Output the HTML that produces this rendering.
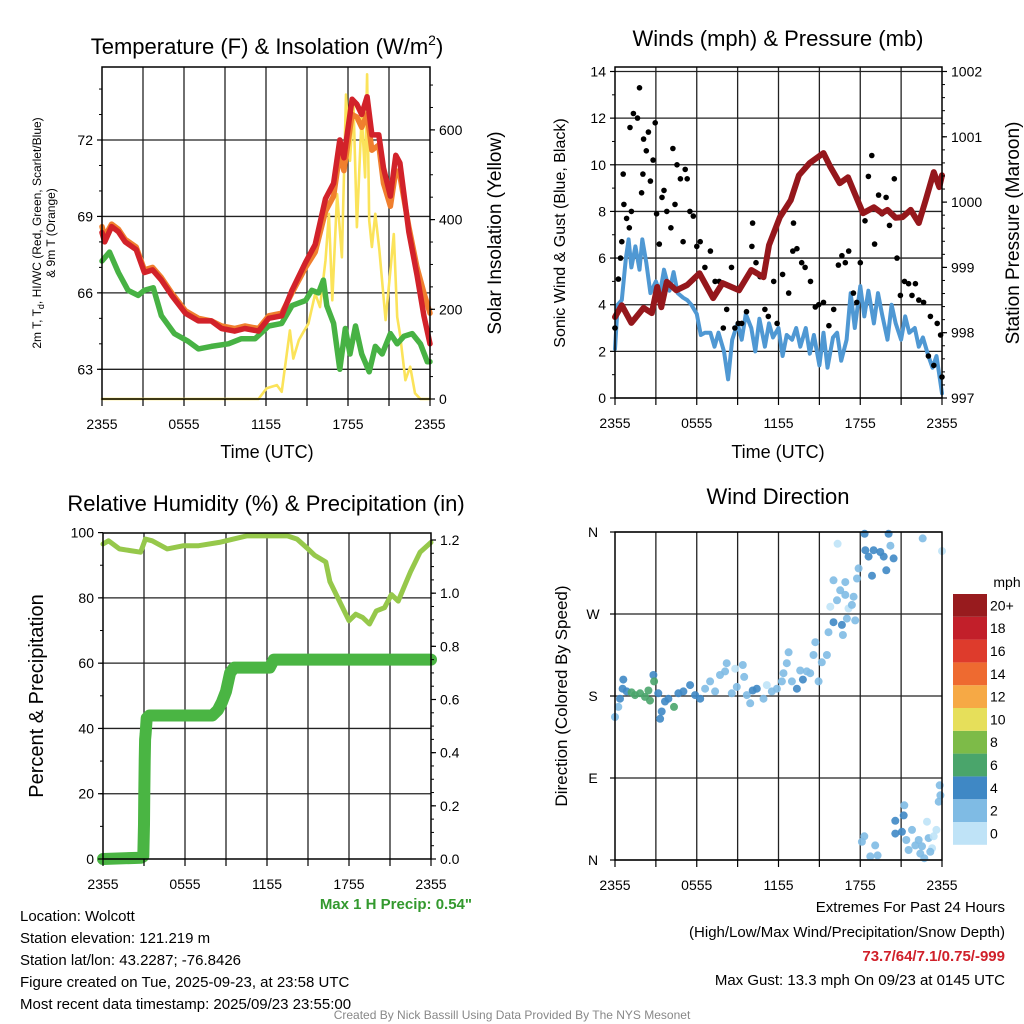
<!DOCTYPE html>
<html><head><meta charset="utf-8">
<style>
html,body{margin:0;padding:0;background:#fff;}
svg{display:block;font-family:"Liberation Sans",Arial,sans-serif;}
</style></head>
<body>
<svg id="fig" width="1024" height="1024" viewBox="0 0 1024 1024" xmlns="http://www.w3.org/2000/svg">
<g id="layer"></g>
</svg>
<script>
// ---------- Panel 1 data ----------
const tempHours = [0,0.2,0.7,1.2,1.7,2.5,3.1,3.7,4.35,5.1,6.1,7.05,8.0,8.75,9.7,10.45,11.45,12.2,13.15,13.9,14.9,15.6,16.35,16.95,17.4,17.7,18.3,18.65,19.0,19.4,19.75,20.25,20.6,21.1,21.5,21.8,22.45,23.05,23.55,24];
const tempRed = [68.37,68.0,68.6,68.4,68.0,67.7,66.8,66.9,66.5,65.9,65.2,64.9,64.9,64.6,64.5,64.6,64.5,65.0,65.1,66.1,67.2,67.9,69.7,70.3,72.0,71.3,73.6,73.4,73.0,73.7,72.2,72.2,70.9,69.8,71.4,71.1,68.4,66.7,65.1,64.0];
const tempOrange = [68.6,68.2,68.7,68.5,68.1,67.8,66.9,67.0,66.6,66.0,65.3,65.0,64.9,64.7,64.6,64.7,64.6,65.1,65.2,66.0,67.0,67.6,69.2,69.8,71.5,70.8,73.0,72.9,72.5,73.0,71.6,71.8,70.3,69.4,70.8,70.6,68.6,67.0,66.0,65.2];
const dewHours = [0,0.55,1.2,1.9,2.65,3.1,3.75,4.35,5.3,6.3,7.05,8.0,9.25,10.2,11.2,12.2,13.15,13.9,14.9,15.35,15.85,16.2,16.45,16.95,17.4,17.8,18.15,18.55,19.0,19.55,20.0,20.5,21.1,21.6,22.1,22.7,23.3,23.8,24];
const dewGreen = [67.25,67.6,66.8,66.1,65.9,66.1,66.2,65.1,64.4,64.1,63.8,63.9,64.0,64.2,64.2,64.7,64.8,65.5,65.7,66.1,66.0,66.5,65.5,64.8,63.0,64.6,63.6,64.7,63.6,62.9,63.9,63.6,64.4,64.0,64.3,64.4,64.0,63.3,63.3];
const solHours = [0,11.45,12.05,12.8,13.15,13.75,14.0,14.4,14.75,15.1,15.6,15.95,16.35,16.6,16.85,17.2,17.55,17.85,18.15,18.4,18.65,19.0,19.25,19.4,19.55,19.75,20.0,20.3,20.75,21.1,21.35,21.6,21.8,22.2,22.55,22.9,23.3,24];
const solValues = [0,0,24,31,16,153,90,131,150,168,235,205,309,413,220,457,316,679,531,657,383,635,494,724,398,339,413,331,176,287,368,183,146,42,72,13,0,0];
const tempTicks = [63,66,69,72];
const solTicks = [0,200,400,600];
const timeLabels = ["2355","0555","1155","1755","2355"];
const timeLabelHours = [0,6,12,18,24];

// ---------- Panel 2 data ----------
const windHours = [0,0.2,0.5,0.8,1.0,1.2,1.5,1.8,2.0,2.3,2.6,3.0,3.3,3.6,4.0,4.3,4.6,5.0,5.3,5.6,6.0,6.3,6.6,7.0,7.3,7.6,8.0,8.3,8.6,9.0,9.3,9.6,10.0,10.3,10.6,11.0,11.3,11.6,12.0,12.3,12.6,13.0,13.3,13.6,14.0,14.3,14.6,15.0,15.3,15.6,16.0,16.3,16.6,17.0,17.3,17.6,18.0,18.3,18.6,19.0,19.3,19.6,20.0,20.3,20.6,21.0,21.3,21.6,22.0,22.3,22.6,23.0,23.3,23.6,24.0];
const windSpeed = [2.1,4.0,4.2,6.0,6.8,5.6,6.5,5.5,6.8,5.8,4.5,5.0,4.5,5.5,4.6,5.4,4.5,4.3,4.2,4.0,3.6,2.7,2.8,2.8,2.2,2.8,2.0,0.8,2.5,3.2,2.5,3.6,3.0,2.0,3.4,2.2,3.2,2.6,3.0,1.8,2.7,2.5,3.0,2.2,3.0,1.9,2.7,1.4,2.8,1.3,2.6,2.8,1.6,2.5,4.5,3.0,4.8,3.5,4.6,3.2,4.5,3.6,2.5,4.0,3.2,2.5,3.5,2.8,3.0,2.2,2.6,1.8,1.3,1.8,0.2];
const gustHours = [0,0.25,0.4,0.5,0.65,0.85,1.05,1.2,0.6,1.1,1.35,1.65,1.8,1.95,2.1,2.05,2.3,2.45,2.6,2.8,2.95,3.05,3.25,3.45,3.6,3.8,4.1,4.25,4.4,4.55,4.8,5.0,5.15,5.3,5.5,5.75,6.0,6.25,6.6,7.0,7.35,7.65,7.95,8.2,8.55,8.8,9.05,9.3,9.65,10.05,10.1,10.35,10.65,11.0,11.25,11.65,11.9,12.3,12.75,13.05,13.1,13.35,13.7,13.95,14.35,14.7,14.95,15.3,15.7,16.05,16.4,16.65,16.9,17.15,17.5,17.75,18.0,18.35,18.6,18.85,19.05,19.35,19.6,19.9,20.15,20.5,20.7,20.95,21.25,21.55,21.8,22.05,22.3,22.65,23.0,23.15,23.4,23.65,23.9,24.0];
const gustSpeed = [3.0,5.1,6.0,6.7,8.3,7.7,7.3,8.0,9.6,11.6,12.2,12.0,13.3,8.8,11.1,9.6,10.6,11.4,9.3,10.2,11.8,7.9,6.6,8.6,8.9,8.0,7.3,10.7,8.3,10.0,9.4,6.7,9.8,9.4,8.0,7.8,6.5,6.7,5.6,6.3,5.0,5.0,3.0,3.8,5.6,3.0,3.2,3.2,3.7,6.5,7.5,5.8,5.2,3.8,3.5,5.0,3.2,5.3,4.5,6.3,7.5,6.4,5.8,5.6,5.0,3.9,4.0,4.1,3.1,3.8,5.7,6.1,5.8,6.3,4.5,4.1,5.8,7.6,9.5,10.4,6.6,8.7,7.9,8.6,7.4,9.4,6.0,4.4,5.0,4.9,4.4,4.9,4.2,4.1,1.8,3.5,1.4,3.2,2.7,0.9];
const presHours = [0,0.5,1.2,2.1,2.7,3.1,3.4,3.8,4.5,5.3,6.2,7.2,7.9,9.1,10.0,10.9,11.3,12.1,12.9,13.5,14.3,15.3,15.8,16.5,17.1,17.8,18.2,19.0,19.6,20.0,20.6,21.1,21.7,22.3,22.8,23.4,23.8,24];
const presValues = [998.24,998.42,998.15,998.38,998.30,998.70,998.39,998.78,998.65,998.73,998.91,998.53,998.76,998.65,998.96,998.85,999.34,999.77,1000.03,1000.41,1000.6,1000.75,1000.54,1000.29,1000.38,1000.03,999.83,999.92,999.83,999.88,999.76,999.77,999.88,999.68,1000.03,1000.46,1000.23,1000.41];
const windTicks = [0,2,4,6,8,10,12,14];
const presTicks = [997,998,999,1000,1001,1002];

// ---------- Panel 3 data ----------
const rhHours = [0,0.4,1.2,2.0,2.75,3.1,3.6,4.7,5.9,7.0,8.5,10.5,13.5,14.2,15.0,15.5,16.3,16.6,17.3,18.0,18.5,19.0,19.5,20.0,20.6,21.1,21.6,22.1,22.5,23.2,24];
const rhValues = [96.5,97.5,95,94.5,94,98,97.5,95,96,96,97,99,99,98,95,93,91,85,79,73,75,74,72,76,77,81,79,84,88,94,97];
const precipHours = [0,2.8,2.95,3.0,3.02,3.05,3.08,3.12,3.2,3.4,8.0,8.4,8.7,9.0,9.3,9.6,12.2,12.5,24];
const precipValues = [0,0.005,0.01,0.13,0.25,0.37,0.45,0.47,0.53,0.54,0.54,0.56,0.59,0.63,0.70,0.72,0.72,0.75,0.75];
const rhTicks = [0,20,40,60,80,100];
const precipTicks = [0,0.2,0.4,0.6,0.8,1.0,1.2];

// ---------- Panel 4 data ----------
const dirHours = [0,0.24,0.37,0.61,0.56,0.86,1.22,1.47,1.84,2.2,2.45,2.57,2.82,2.87,3.18,3.31,3.43,3.67,3.92,4.33,4.65,5.02,5.51,5.88,6.25,6.61,6.98,7.35,7.71,8.08,8.2,8.57,8.82,8.94,9.38,9.48,9.67,9.92,10.11,10.41,10.9,11.14,11.51,11.88,12.25,12.37,12.61,12.74,12.98,13.35,13.59,13.79,14.08,14.33,14.57,14.7,14.94,15.18,15.55,15.67,16.04,16.65,16.73,17.02,17.14,17.39,17.51,17.63,15.8,16.04,16.53,16.9,16.9,16.29,17.76,17.88,18.37,18.32,18.61,18.86,18.98,19.47,19.72,19.91,20.08,20.21,20.45,16.34,22.58,24.0,18.12,18.3,18.74,19.1,19.27,20.57,20.57,21.06,21.23,21.19,21.38,21.8,21.55,22.04,22.29,22.41,22.53,22.7,22.9,23.02,23.27,23.14,23.39,23.59,23.76,23.88,23.83];
const dirDegrees = [157,168,177,198,188,185,184,181,183,179,186,175,203,196,183,155,163,174,177,168,183,185,192,181,177,188,196,185,203,207,216,183,210,190,214,201,181,172,186,188,177,192,185,188,196,205,216,228,196,188,208,198,207,205,225,239,196,217,225,250,261,258,247,265,276,280,289,263,278,307,296,305,291,285,309,320,340,358,333,312,340,338,333,318,358,345,331,347,353,339,20,26,4,16,5,43,29,31,60,49,22,33,11,16,22,7,15,2,42,24,13,9,26,33,64,71,82];
const dirSpeed = [3,3,5,5,5,5,7,7,7,7,7,7,5,7,5,5,5,5,5,7,5,5,5,5,5,3,3,3,3,3,3,3,1,3,3,3,3,3,5,5,3,1,3,3,3,3,3,3,3,5,3,5,3,3,3,3,3,3,3,3,5,5,3,3,1,3,3,3,1,3,3,3,3,3,3,3,5,5,5,5,5,5,5,5,5,3,5,1,3,1,3,3,3,3,3,5,5,5,3,5,3,3,3,3,3,3,3,3,1,3,1,3,1,1,3,3,3];
const speedBins = [0,2,4,6,8,10,12,14,16,18,20];
const speedLabels = ["0","2","4","6","8","10","12","14","16","18","20+"];
const speedColors = ["#bfe3f7","#7fbbe4","#3f88c5","#4aa56b","#7dbb48","#e6df5a","#f6a945","#ee6a30","#de3b2c","#c21f2a","#981b1e"];
const dirTicks = [0,90,180,270,360];
const dirLabels = ["N","E","S","W","N"];

const NS = "http://www.w3.org/2000/svg";
const layer = document.getElementById("layer");
function mk(tag, attrs, parent, name, inter) {
  const el = document.createElementNS(NS, tag);
  for (const k in attrs) el.setAttribute(k, attrs[k]);
  
  
  (parent || layer).appendChild(el);
  return el;
}
function txt(x, y, s, size, name, opts) {
  opts = opts || {};
  const a = {x: x, y: y, "font-size": size, "text-anchor": opts.anchor || "middle", fill: opts.fill || "#000"};
  if (opts.weight) a["font-weight"] = opts.weight;
  if (opts.rot) a.transform = "rotate(-90 " + x + " " + y + ")";
  const t = mk("text", a, null, name, false);
  t.textContent = s;
  return t;
}
function linear(d0, d1, r0, r1) { return v => r0 + (v - d0) / (d1 - d0) * (r1 - r0); }
function path(xs, ys, fx, fy) {
  return xs.map((h, i) => (i ? "L" : "M") + fx(h).toFixed(1) + "," + fy(ys[i]).toFixed(1)).join("");
}
function frame(x0, x1, y0, y1, name, vgrid, hgridYs) {
  const g = mk("g", {}, null, name, false);
  if (vgrid) for (let h = 3; h < 24; h += 3) {
    const x = x0 + h / 24 * (x1 - x0);
    mk("line", {x1: x, x2: x, y1: y0, y2: y1, stroke: "#222", "stroke-width": 1.3}, g, "grid-vertical", false);
  }
  (hgridYs || []).forEach(y => mk("line", {x1: x0, x2: x1, y1: y, y2: y, stroke: "#222", "stroke-width": 1.3}, g, "grid-horizontal", false));
  return g;
}
function border(x0, x1, y0, y1, name) {
  mk("rect", {x: x0, y: y0, width: x1 - x0, height: y1 - y0, fill: "none", stroke: "#000", "stroke-width": 1.5}, null, name, false);
}
function xTicks(x0, x1, y1, name, off) {
  for (let h = 0; h <= 24; h += 3) {
    const x = x0 + h / 24 * (x1 - x0);
    mk("line", {x1: x, x2: x, y1: y1, y2: y1 + 7, stroke: "#000", "stroke-width": 1.2}, null, name + "-tick", false);
  }
  timeLabels.forEach((s, i) => txt(x0 + timeLabelHours[i] / 24 * (x1 - x0), y1 + off, s, 14, name + "-label"));
}
function yTicks(x, vals, fy, side, fmt, name) {
  vals.forEach(v => {
    const y = fy(v);
    mk("line", {x1: x, x2: x + (side < 0 ? -5 : 5), y1: y, y2: y, stroke: "#000", "stroke-width": 1.2}, null, name + "-tick", false);
    txt(x + (side < 0 ? -9 : 9), y + 5, fmt(v), 14, name + "-label", {anchor: side < 0 ? "end" : "start"});
  });
}
function minorTicks(x, lo, hi, step, fy, side, name) {
  for (let v = lo; v <= hi + 1e-9; v += step) {
    const y = fy(v);
    mk("line", {x1: x, x2: x + (side < 0 ? -3 : 3), y1: y, y2: y, stroke: "#000", "stroke-width": 1}, null, name, false);
  }
}

// ================= Panel 1 =================
(function(){
  const x0 = 102, x1 = 430, y0 = 67, y1 = 399;
  const fx = linear(0, 24, x0, x1);
  const fT = linear(63, 72, 369.3, 140);
  const fS = linear(0, 200, 399, 309.3);
  frame(x0, x1, y0, y1, "temp-grid", true, tempTicks.map(fT));
  const defs = {fill: "none", "stroke-linejoin": "round", "stroke-linecap": "round"};
  mk("path", Object.assign({d: path(solHours, solValues, fx, fS), stroke: "#fbe35a", "stroke-width": 2.6}, defs), null, "insolation-line", false);
  mk("path", Object.assign({d: path(dewHours, dewGreen, fx, fT), stroke: "#47b244", "stroke-width": 5.5}, defs), null, "dewpoint-line", false);
  mk("path", Object.assign({d: path(tempHours, tempOrange, fx, fT), stroke: "#f07f2e", "stroke-width": 5.5}, defs), null, "temp-9m-line", false);
  mk("path", Object.assign({d: path(tempHours, tempRed, fx, fT), stroke: "#d2222a", "stroke-width": 5.5}, defs), null, "temp-2m-line", false);
  border(x0, x1, y0, y1, "temp-plot-border");
  xTicks(x0, x1, y1, "temp-x", 30);
  yTicks(x0, tempTicks, fT, -1, v => String(v), "temp-y");
  minorTicks(x0, 63, 74, 1, fT, -1, "temp-minor-tick");
  yTicks(x1, solTicks, fS, 1, v => String(v), "insolation-y");
  minorTicks(x1, 0, 700, 50, fS, 1, "insolation-minor-tick");
  const t = txt(267, 54, "Temperature (F) & Insolation (W/m", 22, "temp-chart-title");
  const sup = document.createElementNS(NS, "tspan"); sup.setAttribute("dy", "-9"); sup.setAttribute("font-size", "14"); sup.textContent = "2"; t.appendChild(sup);
  const cl = document.createElementNS(NS, "tspan"); cl.setAttribute("dy", "9"); cl.textContent = ")"; t.appendChild(cl);
  txt(267, 458, "Time (UTC)", 18, "temp-x-title");
  const yl = txt(41, 233, "2m T, T", 12, "temp-y-title-1", {rot: true});
  const sb = document.createElementNS(NS, "tspan"); sb.setAttribute("dy", "3"); sb.setAttribute("font-size", "9"); sb.textContent = "d"; yl.appendChild(sb);
  const rest = document.createElementNS(NS, "tspan"); rest.setAttribute("dy", "-3"); rest.textContent = ", HI/WC (Red, Green, Scarlet/Blue)"; yl.appendChild(rest);
  txt(55, 233, "& 9m T (Orange)", 12, "temp-y-title-2", {rot: true});
  txt(501, 233, "Solar Insolation (Yellow)", 19, "insolation-y-title", {rot: true});
})();

// ================= Panel 2 =================
(function(){
  const x0 = 615, x1 = 942, y0 = 67, y1 = 398;
  const fx = linear(0, 24, x0, x1);
  const fW = linear(0, 14, 398, 71.5);
  const fP = linear(997, 1002, 398, 71.5);
  frame(x0, x1, y0, y1, "wind-grid", true, windTicks.map(fW));
  const defs = {fill: "none", "stroke-linejoin": "round", "stroke-linecap": "round"};
  mk("path", Object.assign({d: path(windHours, windSpeed, fx, fW), stroke: "#4f98d3", "stroke-width": 4}, defs), null, "wind-speed-line", false);
  const gg = mk("g", {}, null, "gust-points", false);
  gustHours.forEach((h, i) => {
    mk("circle", {cx: fx(h).toFixed(1), cy: fW(gustSpeed[i]).toFixed(1), r: 2.8, fill: "#000"}, gg, "gust-point", false);
  });
  mk("path", Object.assign({d: path(presHours, presValues, fx, fP), stroke: "#95171c", "stroke-width": 6}, defs), null, "pressure-line", false);
  border(x0, x1, y0, y1, "wind-plot-border");
  xTicks(x0, x1, y1, "wind-x", 30);
  yTicks(x0, windTicks, fW, -1, v => String(v), "wind-y");
  minorTicks(x0, 1, 13, 2, fW, -1, "wind-minor-tick");
  yTicks(x1, presTicks, fP, 1, v => String(v), "pressure-y");
  minorTicks(x1, 997, 1002, 0.2, fP, 1, "pressure-minor-tick");
  txt(778, 46, "Winds (mph) & Pressure (mb)", 22, "wind-chart-title");
  txt(778, 458, "Time (UTC)", 18, "wind-x-title");
  txt(565, 233, "Sonic Wind & Gust (Blue, Black)", 16, "wind-y-title", {rot: true});
  txt(1019, 233, "Station Pressure (Maroon)", 19, "pressure-y-title", {rot: true});
})();

// ================= Panel 3 =================
(function(){
  const x0 = 103, x1 = 431, y0 = 533, y1 = 859;
  const fx = linear(0, 24, x0, x1);
  const fR = linear(0, 100, 859, 532.6);
  const fPr = linear(0, 1.2, 859, 540);
  frame(x0, x1, y0, y1, "rh-grid", true, [20,40,60,80].map(fR));
  const defs = {fill: "none", "stroke-linejoin": "round", "stroke-linecap": "round"};
  mk("path", Object.assign({d: path(rhHours, rhValues, fx, fR), stroke: "#96c84b", "stroke-width": 5}, defs), null, "humidity-line", false);
  mk("path", Object.assign({d: path(precipHours, precipValues, fx, fPr), stroke: "#4ab543", "stroke-width": 12}, defs), null, "precip-line", false);
  border(x0, x1, y0, y1, "rh-plot-border");
  xTicks(x0, x1, y1, "rh-x", 30);
  yTicks(x0, rhTicks, fR, -1, v => String(v), "rh-y");
  minorTicks(x0, 0, 100, 10, fR, -1, "rh-minor-tick");
  yTicks(x1, precipTicks, fPr, 1, v => v.toFixed(1), "precip-y");
  minorTicks(x1, 0, 1.2, 0.05, fPr, 1, "precip-minor-tick");
  txt(266, 511, "Relative Humidity (%) & Precipitation (in)", 22, "rh-chart-title");
  txt(43, 696, "Percent & Precipitation", 20, "rh-y-title", {rot: true});
  txt(472, 909, "Max 1 H Precip: 0.54\"", 15, "max-precip-note", {anchor: "end", fill: "#33992e", weight: "bold"});
})();

// ================= Panel 4 =================
(function(){
  const x0 = 615, x1 = 942, y0 = 532, y1 = 860;
  const fx = linear(0, 24, x0, x1);
  const fD = linear(0, 360, 860, 532);
  frame(x0, x1, y0, y1, "dir-grid", true, dirTicks.map(fD));
  function color(s) { let k = 0; for (let i = 0; i < speedBins.length; i++) if (s >= speedBins[i]) k = i; return speedColors[k]; }
  const g = mk("g", {}, null, "direction-points", false);
  dirHours.forEach((h, i) => {
    mk("circle", {cx: fx(h).toFixed(1), cy: fD(dirDegrees[i]).toFixed(1), r: 4, fill: color(dirSpeed[i]), "fill-opacity": 0.9}, g, "direction-point", false);
  });
  border(x0, x1, y0, y1, "dir-plot-border");
  xTicks(x0, x1, y1, "dir-x", 30);
  dirTicks.forEach((d, i) => {
    const y = fD(d);
    mk("line", {x1: x0, x2: x0 - 5, y1: y, y2: y, stroke: "#000", "stroke-width": 1.2}, null, "dir-y-tick", false);
    txt(x0 - 22, y + 5, dirLabels[i], 14, "dir-y-label");
  });
  txt(778, 504, "Wind Direction", 22, "dir-chart-title");
  txt(567, 696, "Direction (Colored By Speed)", 17, "dir-y-title", {rot: true});
  const cb = mk("g", {}, null, "speed-colorbar", false);
  const n = speedColors.length, top = 594, h = 22.8;
  for (let i = 0; i < n; i++) {
    const y = top + (n - 1 - i) * h;
    mk("rect", {x: 953, y: y, width: 34, height: h, fill: speedColors[i]}, cb, "colorbar-swatch", false);
    txt(990, y + h / 2 + 5, speedLabels[i], 14, "colorbar-label", {anchor: "start"});
  }
  txt(1007, 587, "mph", 14, "colorbar-title");
})();

// ================= Footer text =================
const infoLines = ["Location: Wolcott","Station elevation: 121.219 m","Station lat/lon: 43.2287; -76.8426","Figure created on Tue, 2025-09-23, at 23:58 UTC","Most recent data timestamp: 2025/09/23 23:55:00"];
infoLines.forEach((s, i) => txt(20, 921 + i * 22, s, 15, "station-info-line", {anchor: "start"}));
txt(1005, 912, "Extremes For Past 24 Hours", 15, "extremes-title", {anchor: "end"});
txt(1005, 937, "(High/Low/Max Wind/Precipitation/Snow Depth)", 15, "extremes-subtitle", {anchor: "end"});
txt(1005, 961, "73.7/64/7.1/0.75/-999", 15, "extremes-values", {anchor: "end", fill: "#d0202a", weight: "bold"});
txt(1005, 985, "Max Gust: 13.3 mph On 09/23 at 0145 UTC", 15, "max-gust-note", {anchor: "end"});
txt(512, 1019, "Created By Nick Bassill Using Data Provided By The NYS Mesonet", 12, "credit-footer", {fill: "#888"});
</script>
</body></html>
